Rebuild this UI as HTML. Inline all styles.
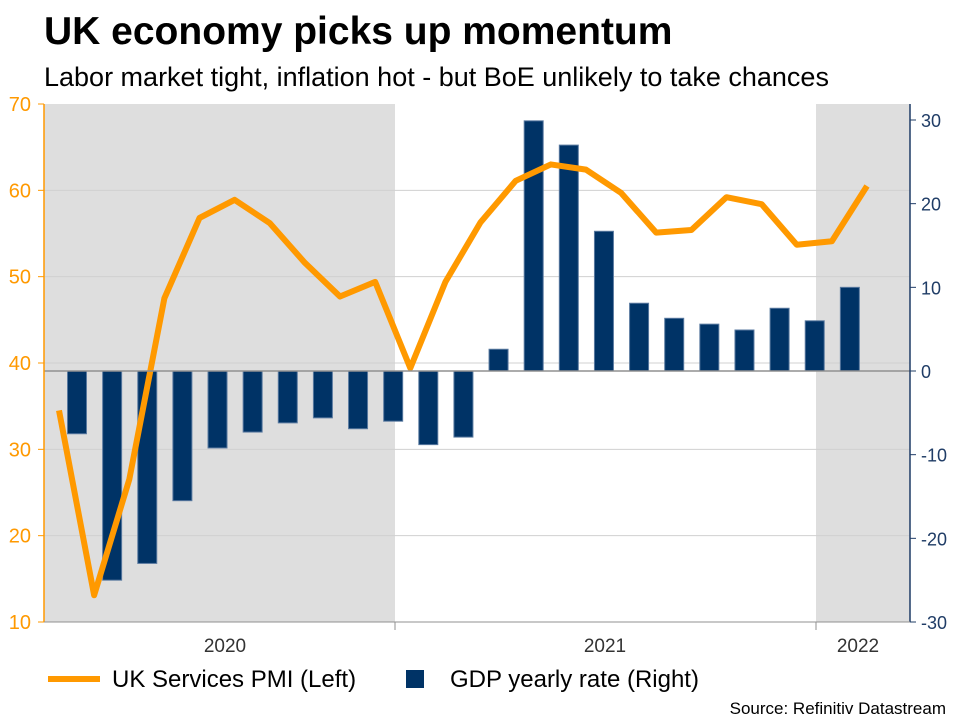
<!DOCTYPE html>
<html><head><meta charset="utf-8"><style>
body{margin:0;background:#fff;font-family:"Liberation Sans",Arial,sans-serif}
svg text{font-family:"Liberation Sans",Arial,sans-serif}
</style></head><body>
<svg id="c" width="960" height="720">
<text x="44" y="44" font-size="39" font-weight="bold" fill="#000">UK economy picks up momentum</text>
<text x="44" y="86" font-size="27" fill="#000">Labor market tight, inflation hot - but BoE unlikely to take chances</text>
<rect x="44" y="104" width="351" height="518" fill="#dedede"/>
<rect x="816" y="104" width="94" height="518" fill="#dedede"/>
<g id="grid"></g><g id="bars"></g><g id="line"></g><g id="axes"></g>
<line x1="48" y1="679" x2="100" y2="679" stroke="#ff9900" stroke-width="6"/>
<text x="112" y="687" font-size="24">UK Services PMI (Left)</text>
<rect x="406" y="670" width="18" height="18" fill="#003366"/>
<text x="450" y="687" font-size="24">GDP yearly rate (Right)</text>
<text x="946" y="714" font-size="17" text-anchor="end">Source: Refinitiv Datastream</text>
</svg>
<script>
const pmi=[34.5,13.1,26.5,47.5,56.8,58.9,56.2,51.6,47.7,49.4,39.4,49.4,56.3,61.1,63,62.4,59.7,55.1,55.4,59.2,58.4,53.7,54.1,60.5];
const gdp=[-7.5,-25,-23,-15.5,-9.2,-7.3,-6.2,-5.6,-6.9,-6,-8.8,-7.9,2.6,29.9,27,16.7,8.1,6.3,5.6,4.9,7.5,6,10];
const leftTicks=[10,20,30,40,50,60,70];
const rightTicks=[-30,-20,-10,0,10,20,30];
const years=["2020","2021","2022"];
const NS="http://www.w3.org/2000/svg";
const yL=v=>622-(v-10)*518/60;
const yR=v=>371-v*251/30;
const xL=i=>59+i*35.13;
const xB=i=>77+i*35.13;
function mk(t,a,p){const e=document.createElementNS(NS,t);for(const k in a)e.setAttribute(k,a[k]);document.getElementById(p).appendChild(e);return e;}
leftTicks.forEach(v=>{
 if(v>10&&v<70){const g=mk('line',{x1:44,x2:910,y1:yL(v),y2:yL(v),stroke:'#d0d0d0','stroke-width':1},'grid');
 
 }
 const t=mk('line',{x1:38,x2:44,y1:yL(v),y2:yL(v),stroke:'#ff9900'},'axes');
 
 
 const l=mk('text',{x:31,y:yL(v)+7,'font-size':20,fill:'#ff9900','text-anchor':'end'},'axes');l.textContent=v;
 
 
});
rightTicks.forEach(v=>{
 const t=mk('line',{x1:910,x2:916,y1:yR(v),y2:yR(v),stroke:'#1f3c66'},'axes');
 
 
 const l=mk('text',{x:921,y:yR(v)+7,'font-size':18,fill:'#1f3c66'},'axes');l.textContent=v;
 
 
});
const z=mk('line',{x1:44,x2:910,y1:yR(0),y2:yR(0),stroke:'#909090','stroke-width':1.5},'axes');


const la=mk('line',{x1:44,x2:44,y1:104,y2:622,stroke:'#ff9900','stroke-width':1.5},'axes');


const ra=mk('line',{x1:910,x2:910,y1:104,y2:622,stroke:'#1f3c66','stroke-width':1.5},'axes');


const xa=mk('line',{x1:44,x2:910,y1:622,y2:622,stroke:'#909090','stroke-width':1},'axes');


[395,816].forEach(x=>{const t=mk('line',{x1:x,x2:x,y1:622,y2:630,stroke:'#909090'},'axes');
 
 });
[225,605,858].forEach((x,i)=>{const l=mk('text',{x:x,y:652,'font-size':19,fill:'#333','text-anchor':'middle'},'axes');l.textContent=years[i];
 
 });
gdp.forEach((v,i)=>{const y=Math.min(yR(v),yR(0));
 const b=mk('rect',{x:xB(i)-9.5,y:y,width:19,height:Math.abs(yR(v)-yR(0)),fill:'#003366',stroke:'#5a7aa0','stroke-width':1},'bars');
 
 });
const p=mk('polyline',{points:pmi.map((v,i)=>xL(i)+','+yL(v)).join(' '),fill:'none',stroke:'#ff9900','stroke-width':6,'stroke-linejoin':'round'},'line');


</script>
</body></html>
